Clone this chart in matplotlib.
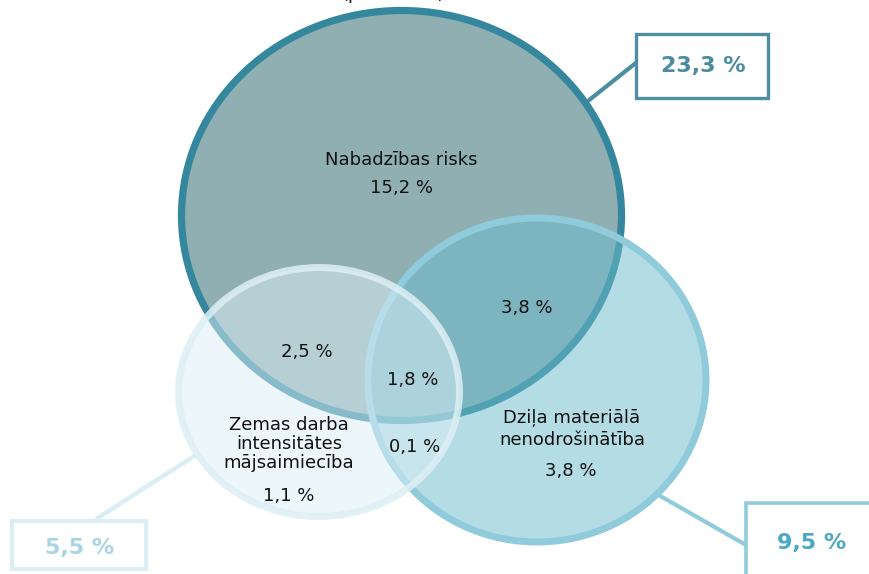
import matplotlib
matplotlib.use("Agg")
import matplotlib.pyplot as plt
from matplotlib.patches import Ellipse, Rectangle

# ---- data ----
set_names = ["Nabadzības risks", "Dziļa materiālā\nnenodrošinātība",
             "Zemas darba\nintensitātes\nmājsaimiecība"]
set_totals = ["23,3 %", "9,5 %", "5,5 %"]
only_values = ["15,2 %", "3,8 %", "1,1 %"]          # exclusive parts
risk_depr = "3,8 %"
risk_low = "2,5 %"
all_three = "1,8 %"
depr_low = "0,1 %"
title = "(procentos)"

W, H = 870, 574
fig = plt.figure(figsize=(W / 100, H / 100), dpi=100)
ax = fig.add_axes([0, 0, 1, 1])
ax.set_xlim(0, W)
ax.set_ylim(H, 0)
ax.set_aspect("equal")
ax.axis("off")

# ---- circles ----
big = Ellipse((401.5, 215.5), 440, 410, facecolor="#8FAFB3",
              edgecolor="#34879C", lw=5.2, zorder=1)
ax.add_patch(big)
right_fill = Ellipse((537, 380), 338, 324, facecolor="#6BBBCB", alpha=0.5,
                     edgecolor="none", zorder=2)
right_edge = Ellipse((537, 380), 338, 324, facecolor="none",
                     edgecolor="#90CBDC", lw=5, zorder=3)
ax.add_patch(right_fill)
ax.add_patch(right_edge)
left_fill = Ellipse((319, 392), 281, 249, facecolor="#DCEFF7", alpha=0.5,
                    edgecolor="none", zorder=4)
left_edge = Ellipse((319, 392), 281, 249, facecolor="none",
                    edgecolor="#DDEFF5", lw=5, alpha=0.85, zorder=5)
ax.add_patch(left_fill)
ax.add_patch(left_edge)

# ---- region labels ----
fs = 13
tk = dict(ha="center", va="center", fontsize=fs, color="#111111", zorder=10,
          family="DejaVu Sans", linespacing=1.08)
ax.text(401, 160, set_names[0], **tk)
ax.text(402, 188, only_values[0], **tk)
ax.text(527, 308, risk_depr, **tk)
ax.text(307, 352, risk_low, **tk)
ax.text(413, 380, all_three, **tk)
ax.text(415, 447, depr_low, **tk)
ax.text(289, 444, set_names[2], **tk)
ax.text(289, 496, only_values[2], **tk)
ax.text(572, 429, set_names[1], **dict(tk, linespacing=1.3))
ax.text(571, 471, only_values[1], **tk)

# ---- title (mostly cut off at top, as in the source) ----
ax.text(393, -1.5, title, ha="center", va="baseline", fontsize=fs,
        color="#111111", zorder=10)

# ---- callout boxes ----
bk = dict(ha="center", va="center", fontsize=16, fontweight="bold", zorder=10)
# 23,3 %
ax.plot([588, 637], [101, 62], color="#4A8EA2", lw=3, zorder=0.5,
        solid_capstyle="butt")
ax.add_patch(Rectangle((636.5, 33.5), 132, 64, facecolor="white",
                       edgecolor="#4D8EA2", lw=2.4, zorder=6))
ax.text(703, 66, set_totals[0], color="#4A8BA0", **bk)
# 9,5 %
ax.plot([655, 746], [493, 545], color="#90CBDC", lw=3, zorder=0.5,
        solid_capstyle="butt")
ax.add_patch(Rectangle((746, 503.5), 140, 100, facecolor="white",
                       edgecolor="#90CBDC", lw=2.6, zorder=6))
ax.text(812, 543, set_totals[1], color="#49A8C5", **bk)
# 5,5 %
ax.plot([96, 196], [519, 455], color="#DAEEF4", lw=3.2, zorder=0.5,
        solid_capstyle="butt")
ax.add_patch(Rectangle((12.5, 521.5), 134, 48, facecolor="white",
                       edgecolor="#DAEEF4", lw=3, zorder=6))
ax.text(80, 548, set_totals[2], color="#A8D5E3", **bk)

fig.savefig("out.png", dpi=100)
